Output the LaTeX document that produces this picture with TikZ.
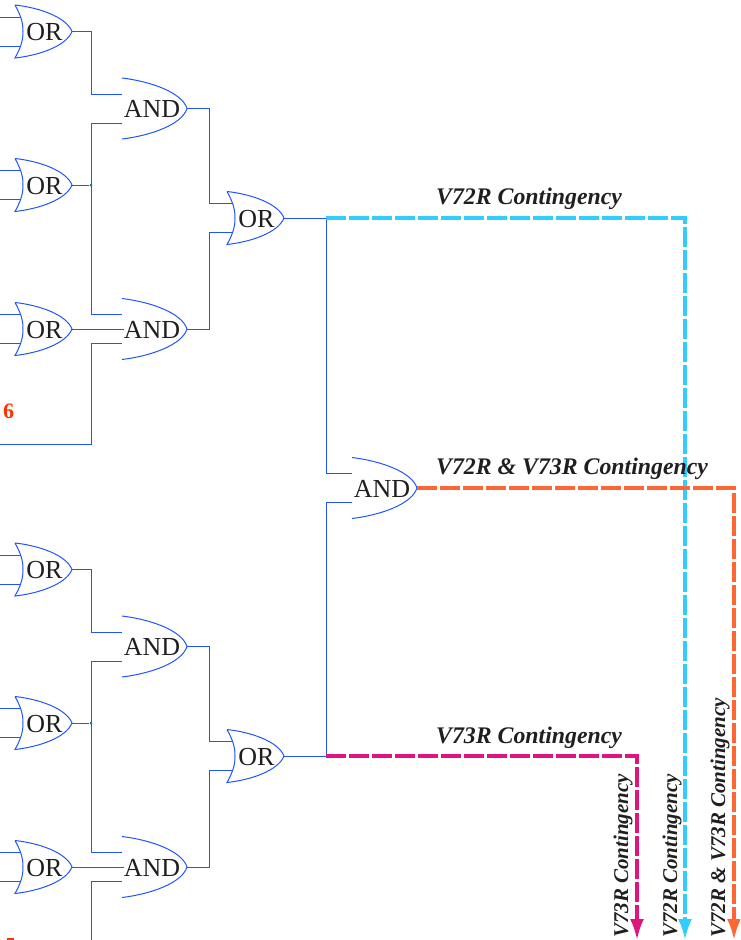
\documentclass[tikz,border=0pt]{standalone}
\usepackage{fontspec}
\setmainfont{Liberation Serif}
\usetikzlibrary{arrows.meta, calc}
\definecolor{wireblue}{RGB}{31, 84, 255}
\definecolor{dotteal}{RGB}{0, 128, 170}
\definecolor{skyline}{RGB}{51, 204, 255}
\definecolor{orangeline}{RGB}{255, 102, 51}
\definecolor{pinkline}{RGB}{224, 20, 127}
\definecolor{noteline}{RGB}{255, 51, 0}

\begin{document}
\begin{tikzpicture}[
  x=1pt, y=-1pt,
  wire/.style={draw=wireblue, line width=1pt},
  gatetext/.style={inner sep=0pt, font=\fontsize{26}{26}\selectfont, text=black!88},
  contlabel/.style={inner sep=0pt, anchor=base west, font=\fontsize{23.8}{24}\selectfont\bfseries\itshape, text=black!88},
  droplabel/.style={inner sep=0pt, anchor=base west, rotate=90, font=\fontsize{21}{21}\selectfont\bfseries\itshape, text=black!88},
  contline/.style={line width=3.4pt, dash pattern=on 20pt off 3pt},
  droptip/.style={-{Latex[length=21pt, width=14pt]}},
  joint/.style={circle, fill=dotteal, inner sep=0pt, minimum size=3pt},
  notelabel/.style={inner sep=0pt, anchor=base west, font=\fontsize{22}{22}\selectfont\bfseries, text=noteline},
  pics/orgate/.style={code={
    \draw[wire] (-57,-26.5) .. controls (-34,-24) and (-6,-15) .. (0,0)
      .. controls (-6,15) and (-34,24) .. (-57,26.5)
      .. controls (-50,14) and (-49,7) .. (-49,0)
      .. controls (-49,-7) and (-50,-14) .. (-57,-26.5);
    \node[gatetext] (-txt) at (-27.5,0.7) {OR};
    \coordinate (-out) at (0,0);
    \coordinate (-in1) at (-51,-14.5);
    \coordinate (-in2) at (-51,14.5);
  }},
  pics/andgate/.style={code={
    \draw[wire] (-65,-30.5) .. controls (-36,-27) and (-5,-16) .. (0,0)
      .. controls (-5,16) and (-36,27) .. (-65,30.5);
    \node[gatetext] (-txt) at (-35,0.7) {AND};
    \coordinate (-out) at (0,0);
    \coordinate (-in1) at (-65,-14.5);
    \coordinate (-in2) at (-65,14.5);
  }}
]
  \useasboundingbox (0,0) rectangle (740,940);
  \clip (0,0) rectangle (740,940);
  \coordinate (edge) at (0,0);
  \coordinate (floor) at (0,940);

  % upper group
  \pic (orA) at (72,31.5) {orgate};
  \pic (orB) at (72,185) {orgate};
  \pic (orC) at (72,329) {orgate};
  \pic (andA) at (187,108.5) {andgate};
  \pic (andB) at (187,329) {andgate};
  \pic (orD) at (284,218) {orgate};
  \node[joint] (jointB) at (91,185) {};
  \coordinate (feedB) at (0,444);

  % lower group
  \pic (orE) at (72,569.5) {orgate};
  \pic (orF) at (72,723) {orgate};
  \pic (orG) at (72,867) {orgate};
  \pic (andC) at (187,646.5) {andgate};
  \pic (andD) at (187,867) {andgate};
  \pic (orH) at (284,756) {orgate};
  \node[joint] (jointF) at (91,723) {};

  \pic (andE) at (417,488) {andgate};
  \coordinate (splitD) at (326,218);
  \coordinate (splitH) at (326,756);
  \coordinate (endSky) at (685,940);
  \coordinate (endOrange) at (734,940);
  \coordinate (endPink) at (637,940);

  \draw[wire] (orA-in1) -- (orA-in1 -| edge);
  \draw[wire] (orA-in2) -- (orA-in2 -| edge);
  \draw[wire] (orB-in1) -- (orB-in1 -| edge);
  \draw[wire] (orB-in2) -- (orB-in2 -| edge);
  \draw[wire] (orC-in1) -- (orC-in1 -| edge);
  \draw[wire] (orC-in2) -- (orC-in2 -| edge);
  \draw[wire] (orE-in1) -- (orE-in1 -| edge);
  \draw[wire] (orE-in2) -- (orE-in2 -| edge);
  \draw[wire] (orF-in1) -- (orF-in1 -| edge);
  \draw[wire] (orF-in2) -- (orF-in2 -| edge);
  \draw[wire] (orG-in1) -- (orG-in1 -| edge);
  \draw[wire] (orG-in2) -- (orG-in2 -| edge);

  \draw[wire] (orA-out) -| (jointB |- andA-in1) -- (andA-in1);
  \draw[wire] (orB-out) -- (jointB);
  \draw[wire] (andA-in2) -- (jointB |- andA-in2) -- (jointB |- andB-in1) -- (andB-in1);
  \draw[wire] (orC-out) -- (andB-txt.west |- orC-out);
  \draw[wire] (andB-in2) -- (jointB |- andB-in2) -- (jointB |- feedB) -- (feedB);
  \draw[wire] (andA-out) -- ++(22,0) |- (orD-in1);
  \draw[wire] (andB-out) -- ++(22,0) |- (orD-in2);

  \draw[wire] (orE-out) -| (jointF |- andC-in1) -- (andC-in1);
  \draw[wire] (orF-out) -- (jointF);
  \draw[wire] (andC-in2) -- (jointF |- andC-in2) -- (jointF |- andD-in1) -- (andD-in1);
  \draw[wire] (orG-out) -- (andD-txt.west |- orG-out);
  \draw[wire] (andD-in2) -- (jointF |- andD-in2) -- (jointF |- floor);
  \draw[wire] (andC-out) -- ++(22,0) |- (orH-in1);
  \draw[wire] (andD-out) -- ++(22,0) |- (orH-in2);

  \draw[wire] (orD-out) -- (splitD) |- (andE-in1);
  \draw[wire] (orH-out) -- (splitH) |- (andE-in2);

  \draw[contline, droptip, draw=skyline] (splitD) -| (endSky);
  \draw[contline, droptip, draw=orangeline] (andE-out) -| (endOrange);
  \draw[contline, droptip, draw=pinkline] (splitH) -| (endPink);

  \node[contlabel] (labelSky) at (436,204) {V72R Contingency};
  \node[contlabel] (labelBoth) at (436,474) {V72R \& V73R Contingency};
  \node[contlabel] (labelPink) at (436,743) {V73R Contingency};
  \node[droplabel] (dropPink) at (628,938) {V73R Contingency};
  \node[droplabel] (dropSky) at (677,938) {V72R Contingency};
  \node[droplabel] (dropBoth) at (725,938) {V72R \& V73R Contingency};
  \node[notelabel] (noteB) at (3,418) {6};
  \fill[noteline] (7,938) rectangle (14,940);
\end{tikzpicture}
\end{document}
